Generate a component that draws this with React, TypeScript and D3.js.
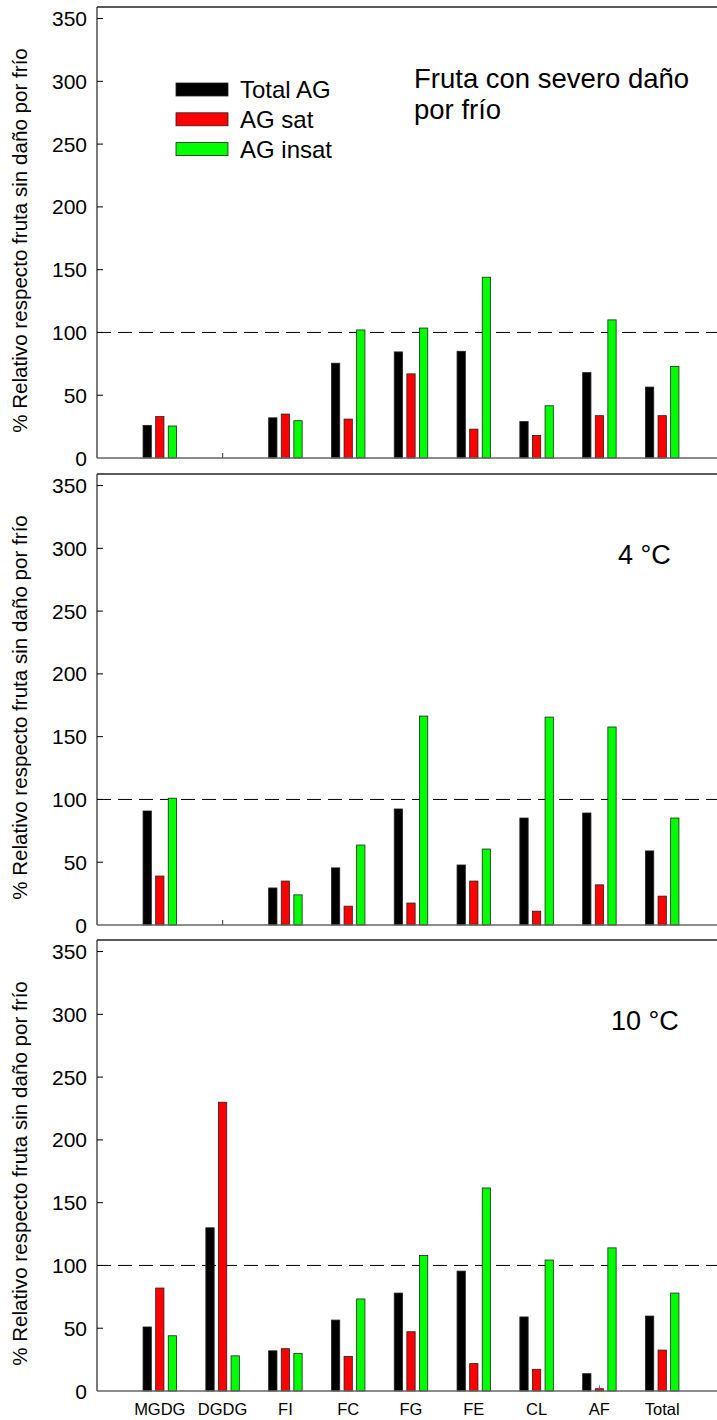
import React from "react";
import * as d3 from "d3";

const categories = ["MGDG", "DGDG", "FI", "FC", "FG", "FE", "CL", "AF", "Total"];
const seriesNames = ["Total AG", "AG sat", "AG insat"];
const seriesColors = ["#000000", "#ff0000", "#00ff00"];
const yTicks = [0, 50, 100, 150, 200, 250, 300, 350];

// Panel 1: Fruta con severo daño por frío
const p1Total = [26, 0, 32, 75.5, 84.5, 85, 29, 68, 56.5];
const p1Sat = [33, 0, 35, 31, 67, 23, 18, 33.7, 33.7];
const p1Insat = [25.5, 0, 29.7, 102, 103.5, 144, 41.6, 110, 73];
const p1Whisker = [0, 4, 0, 0, 0, 0, 0, 0, 0];

// Panel 2: 4 °C
const p2Total = [90.8, 0, 29.5, 45.5, 92.4, 47.8, 85.2, 89.2, 59];
const p2Sat = [39, 0, 35, 15, 17.5, 35, 11, 32, 23];
const p2Insat = [101, 0, 24, 63.7, 166.4, 60.5, 165.6, 157.7, 85.2];
const p2Whisker = [0, 4, 0, 0, 0, 0, 0, 0, 0];

// Panel 3: 10 °C
const p3Total = [51, 130, 32, 56.5, 78, 95.5, 59, 13.8, 59.7];
const p3Sat = [82, 230, 33.7, 27.6, 47.2, 21.8, 17.3, 1.8, 32.6];
const p3Insat = [44, 28, 30, 73.3, 108, 161.7, 104.3, 114, 78];
const p3SatErr = [0, 0, 0, 0, 0, 0, 0, 4.5, 0];

const panels = [
  { label: ["Fruta con severo daño", "por frío"], series: [p1Total, p1Sat, p1Insat], whisker: p1Whisker, satErr: null as number[] | null, legend: true, y0: 458 },
  { label: ["4 °C"], series: [p2Total, p2Sat, p2Insat], whisker: p2Whisker, satErr: null, legend: false, y0: 925 },
  { label: ["10 °C"], series: [p3Total, p3Sat, p3Insat], whisker: null as number[] | null, satErr: p3SatErr, legend: false, y0: 1391 },
];

const W = 717;
const H = 1420;
const left = 97;
const right = 725;
const panelH = 451;
const font = "Arial, 'Liberation Sans', sans-serif";

export default function App() {
  const x = d3.scaleLinear().domain([0, 10]).range([left, right]);
  const barW = 8.3;
  const offsets = [-12.6, 0, 12.6];

  return (
    <svg width={W} height={H} style={{ position: "absolute", left: 0, top: 0, background: "#fff" }}>
      {panels.map((p, pi) => {
        const y = d3.scaleLinear().domain([0, 359.2]).range([p.y0, p.y0 - panelH]);
        const top = y(359.2);
        return (
          <g key={pi}>
            <line x1={left} x2={right} y1={top} y2={top} stroke="#222" strokeWidth={1.5} />
            <line x1={left} x2={left} y1={top} y2={p.y0} stroke="#333" strokeWidth={1.3} />
            <line x1={left} x2={right} y1={y(100)} y2={y(100)} stroke="#000" strokeWidth={1} strokeDasharray="14,7" />
            {p.series.map((vals, si) =>
              vals.map((v, ci) =>
                v > 0 ? (
                  <rect
                    key={`${si}-${ci}`}
                    x={x(ci + 1) + offsets[si] - barW / 2}
                    y={y(v)}
                    width={barW}
                    height={y(0) - y(v)}
                    fill={seriesColors[si]}
                    stroke="#222"
                    strokeWidth={0.8}
                  />
                ) : null
              )
            )}
            {p.whisker &&
              p.whisker.map((v, ci) =>
                v > 0 ? (
                  <line key={`w${ci}`} x1={x(ci + 1)} x2={x(ci + 1)} y1={y(0)} y2={y(v)} stroke="#555" strokeWidth={1.2} />
                ) : null
              )}
            {p.satErr &&
              p.satErr.map((v, ci) =>
                v > 0 ? (
                  <line key={`e${ci}`} x1={x(ci + 1)} x2={x(ci + 1)} y1={y(p.series[1][ci])} y2={y(v)} stroke="#555" strokeWidth={1} />
                ) : null
              )}
            <line x1={left} x2={right} y1={p.y0} y2={p.y0} stroke="#666" strokeWidth={1.3} />
            {yTicks.map((t) => (
              <g key={t}>
                {t > 0 && <line x1={left} x2={left + 6} y1={y(t)} y2={y(t)} stroke="#000" strokeWidth={1} />}
                <text x={87} y={y(t)} dy="0.36em" textAnchor="end" fontFamily={font} fontSize={21} fill="#000">
                  {t}
                </text>
              </g>
            ))}
            <text
              transform={`translate(27,${(p.y0 + top) / 2 + 8}) rotate(-90)`}
              textAnchor="middle"
              fontFamily={font}
              fontSize={20.6}
              fill="#000"
            >
              % Relativo respecto fruta sin daño por frío
            </text>
            {p.label.length > 1 ? (
              p.label.map((l, li) => (
                <text key={li} x={414} y={top + 81 + li * 31} fontFamily={font} fontSize={27.5} fill="#000">
                  {l}
                </text>
              ))
            ) : (
              <text x={pi === 1 ? 618 : 611} y={top + 90} fontFamily={font} fontSize={27} fill="#000">
                {p.label[0]}
              </text>
            )}
            {p.legend &&
              seriesNames.map((n, si) => (
                <g key={n}>
                  <rect x={176} y={top + 76 + si * 29.8} width={52} height={13} fill={seriesColors[si]} stroke="#222" strokeWidth={0.8} />
                  <text x={240} y={top + 82.5 + si * 29.8} dy="0.36em" fontFamily={font} fontSize={24} fill="#000">
                    {n}
                  </text>
                </g>
              ))}
          </g>
        );
      })}
      {categories.map((c, ci) => (
        <text key={c} x={x(ci + 1)} y={1415} textAnchor="middle" fontFamily={font} fontSize={16.5} fill="#000">
          {c}
        </text>
      ))}
    </svg>
  );
}
